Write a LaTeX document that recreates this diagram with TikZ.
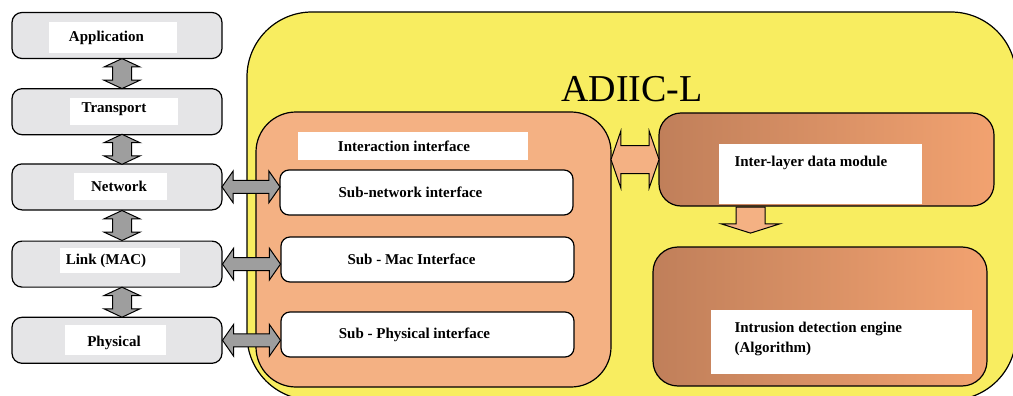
\documentclass[tikz,border=0pt]{standalone}
\usepackage{fontspec}
\setmainfont{Liberation Serif}
\usetikzlibrary{positioning,shapes.arrows}

\definecolor{adyellow}{RGB}{248,237,96}
\definecolor{salmon}{RGB}{244,177,131}
\definecolor{brownl}{RGB}{192,127,90}
\definecolor{brownr}{RGB}{242,162,112}
\definecolor{layergray}{RGB}{229,229,231}
\definecolor{arrowgray}{RGB}{158,158,158}

\begin{document}
\begin{tikzpicture}[x=1pt,y=-1pt,
  font=\bfseries\fontsize{15}{20}\selectfont,
  layer/.style={draw,line width=1.2pt,rounded corners=10pt,fill=layergray,minimum width=210pt,minimum height=46pt},
  lbl/.style={fill=white,inner sep=0pt},
  subbox/.style={draw,line width=1.2pt,rounded corners=9pt,fill=white,minimum width=293pt,minimum height=45pt},
  modbox/.style={draw,line width=1.2pt,left color=brownl,right color=brownr},
  vdbl/.style={double arrow,draw,line width=1pt,fill=arrowgray,rotate=90,inner xsep=0pt,inner ysep=9pt,
    double arrow head extend=8.5pt,double arrow tip angle=130,minimum height=30pt},
  hdbl/.style={double arrow,draw,line width=1pt,fill=arrowgray,inner xsep=0pt,inner ysep=6pt,
    double arrow head extend=9.5pt,double arrow tip angle=110,minimum height=58pt},
  sdbl/.style={double arrow,draw,line width=1pt,fill=salmon,inner xsep=0pt,inner ysep=13.5pt,
    double arrow head extend=14.5pt,double arrow tip angle=142,minimum height=48pt},
  sarr/.style={single arrow,draw,line width=1pt,fill=salmon,rotate=-90,inner xsep=0pt,inner ysep=14pt,
    single arrow head extend=15pt,single arrow tip angle=145,minimum height=26pt}]

\useasboundingbox (0,0) rectangle (1013,396);

% protocol stack
\node[layer] (app) at (117,35.5) {};
\node[layer,below=29pt of app] (trans) {};
\node[layer,below=28pt of trans] (net) {};
\node[layer,below=30pt of net] (link) {};
\node[layer,below=29pt of link] (phys) {};

\node[lbl,minimum width=128pt,minimum height=31pt,label={[xshift=-6.5pt]center:Application}] (applbl) at (113,37.5) {};
\node[lbl,minimum width=108pt,minimum height=27pt,label={[xshift=-10pt,yshift=2.5pt]center:Transport}] (translbl) at (124,111.5) {};
\node[lbl,minimum width=93pt,minimum height=27pt,label={[xshift=-1.5pt]center:Network}] (netlbl) at (120.5,186.5) {};
\node[lbl,minimum width=120pt,minimum height=25pt,label={[xshift=-14pt]center:Link (MAC)}] (linklbl) at (120,260.5) {};
\node[lbl,minimum width=101pt,minimum height=30pt,label={[xshift=-1.5pt,yshift=-3pt]center:Physical}] (physlbl) at (115.5,340) {};

% ADIIC-L
\node[draw,line width=1.2pt,fill=adyellow,rounded corners=65pt,minimum width=769pt,minimum height=388pt] (adiic) at (631.5,206) {};
\node[font=\mdseries\fontsize{38}{40}\selectfont] (title) at (632,89) {ADIIC-L};

\node[draw,line width=1.2pt,fill=salmon,rounded corners=40pt,minimum width=355pt,minimum height=275pt] (iface) at (433.5,249.5) {};
\node[lbl,minimum width=230pt,minimum height=28pt,label={[xshift=-9pt]center:Interaction interface}] (ifacelbl) at (413,146) {};

\node[subbox,label={[xshift=-16pt]center:Sub-network interface}] (subnet) at (426.5,192.5) {};
\node[subbox,label={[xshift=-16pt]center:Sub - Mac Interface}] (submac) at (427.5,259.5) {};
\node[subbox,label={[xshift=-13pt]center:Sub - Physical interface}] (subphys) at (427.5,334.5) {};

\node[modbox,rounded corners=22pt,minimum width=335pt,minimum height=93pt] (ild) at (826.5,159.5) {};
\node[lbl,minimum width=203pt,minimum height=60pt] (ildlbl) at (820.5,174) {};
\node[anchor=west] (ildtxt) at (731,163) {Inter-layer data module};

\node[modbox,rounded corners=25pt,minimum width=334pt,minimum height=139pt] (ide) at (820,316.5) {};
\node[lbl,minimum width=261pt,minimum height=64pt] (idelbl) at (841.5,342) {};
\node[anchor=west,align=left] (idetxt) at (731,339) {Intrusion detection engine\\(Algorithm)};

% arrows
\foreach \a/\b in {app/trans,trans/net,net/link,link/phys}
  \path ([xshift=5pt]\a.south) -- node[vdbl]{} ([xshift=5pt]\b.north);
\foreach \a/\b in {net/subnet,link/submac,phys/subphys}
  \path (\a.east) -- node[hdbl]{} (\a.east -| \b.west);
\path (ild.west -| iface.east) -- node[sdbl]{} (ild.west);
\node[sarr,anchor=tail] (down) at ([xshift=-76pt]ild.south) {};

\end{tikzpicture}
\end{document}
